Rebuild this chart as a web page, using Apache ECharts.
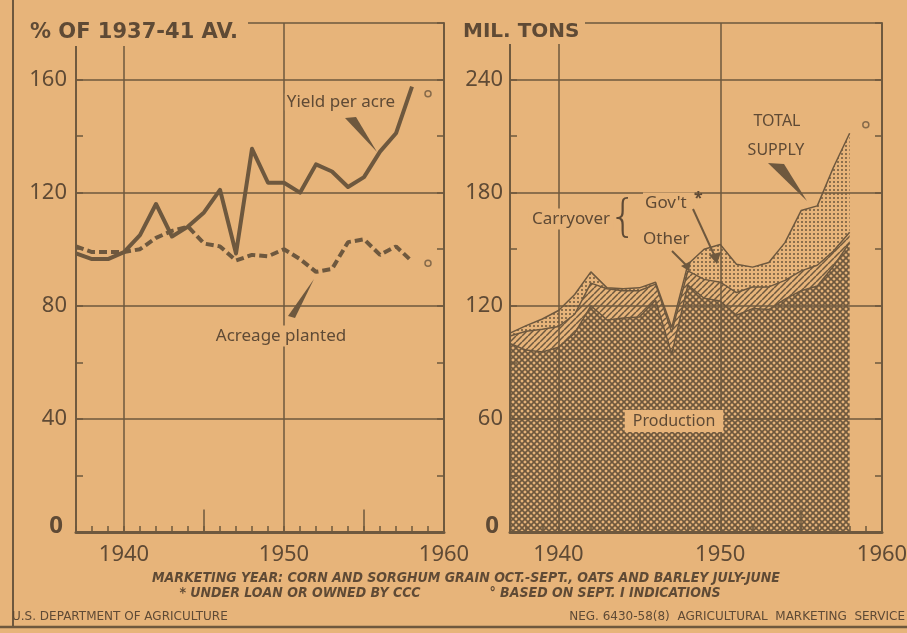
<!DOCTYPE html>
<html>
<head>
<meta charset="utf-8">
<script src="https://cdn.jsdelivr.net/npm/echarts@6/dist/echarts.min.js"></script>
<style>
html,body{margin:0;padding:0;background:#e7b47a;}
#chart{width:907px;height:633px;}
</style>
</head>
<body>
<div id="chart"></div>
<script>
// marketing years
const years = [1937,1938,1939,1940,1941,1942,1943,1944,1945,1946,1947,1948,1949,1950,1951,1952,1953,1954,1955,1956,1957,1958]
// left panel, % of 1937-41 average
const yieldPerAcre   = [98.5,96.5,96.5,99,105,116,104.5,108,113,121,98.5,135.5,123.5,123.5,120,130,127.5,122,125.5,134.5,141,157.5]
const acreagePlanted = [101,99,99,99,100,104,106.5,108,102,101,96,98,97.5,100,96.5,92,93,102.5,103.5,98,101,95.7]
// right panel, mil. tons
const production = [100,96.5,95.5,98,105.5,120,112.5,113.5,114,123,94.5,131,124,122.5,115,118.5,118,123.5,128,130.5,141,153.5]
const carryOther = [4,10,12,11,10,12,16.5,14.5,14,8.5,11.5,7.5,10,10,12,11.5,12,10,10.5,11,8,5.5]
const carryGov   = [1.5,3,5.5,8.5,10.5,6,0.5,1,1.5,1,2.5,3.5,16,20,15,10.5,13,20,32,31.5,44.5,52.5]
// sept. 1 indications
const estYear = 1959
const yieldEst = 155
const acreageEst = 95
const supplyEst = 216

const leftLabels = [0,40,80,120,160]
const rightLabels = [0,60,120,180,240]
const xLabels = [1940,1950,1960]
const axisYears = years.concat([1959, 1960]).map(String)

const PAPER = '#e7b47a'
const INK = '#6e583e'
const TEXT = '#5f4a35'
const NONE = 'rgba(0,0,0,0)'

function pattern(size, draw){
    const c = document.createElement('canvas')
    c.width = size; c.height = size
    const g = c.getContext('2d')
    draw(g, size)
    return c
}
// crosshatch for production
const crossImg = pattern(6, (g, s) => {
    g.strokeStyle = INK; g.lineWidth = 1.7
    g.beginPath()
    for (const o of [-s, 0, s]) {
        g.moveTo(o, 0); g.lineTo(o + s, s)
        g.moveTo(o + s, 0); g.lineTo(o, s)
    }
    g.stroke()
})
// diagonal stripes for other carryover
const stripeImg = pattern(6, (g, s) => {
    g.strokeStyle = INK; g.lineWidth = 1.5
    g.beginPath()
    for (const o of [-s, 0, s]) {
        g.moveTo(o, s); g.lineTo(o + s, 0)
    }
    g.stroke()
})
// fine dots for gov't carryover
const dotImg = pattern(4, (g, s) => {
    g.fillStyle = INK
    g.beginPath(); g.arc(2, 2, 1, 0, Math.PI * 2); g.fill()
})

const pairs = arr => arr.map((v, i) => [years[i], v])

// every 10th vertical grid line starting at 1940 (index 3 from 1937)
const xSplitColors = Array.from({length: 10}, (_, i) => i === 3 ? INK : NONE)

const xLabelStyle = {
    formatter: v => xLabels.includes(Number(v)) ? String(v) : '',
    color: TEXT, fontSize: 22, fontFamily: 'Noto Sans', margin: 12
}
const xTick = {inside: true, length: 6, lineStyle: {color: INK, width: 1.5}}

function yAxisFor(gridIndex, max, step, labels, margin){
    return {
        type: 'value', gridIndex, min: 0, max, interval: step,
        axisLine: {show: true, lineStyle: {color: INK, width: 1.8}},
        axisTick: {show: true, inside: true, length: 7, lineStyle: {color: INK, width: 1.5}},
        axisLabel: {
            formatter: v => v === 0 ? '{b|0}' : (labels.includes(v) ? String(v) : ''),
            color: TEXT, fontSize: 22, fontFamily: 'Noto Sans', margin,
            rich: {b: {fontSize: 24, fontWeight: 'bold', color: TEXT, fontFamily: 'Noto Sans', padding: [0, 4, 12, 0]}}
        },
        splitLine: {show: true, lineStyle: {color: [INK, NONE], width: 1.5}}
    }
}
function rightTicks(gridIndex, max, step){
    return {
        type: 'value', gridIndex, min: 0, max, interval: step, position: 'right',
        axisLine: {show: true, lineStyle: {color: INK, width: 1.5}},
        axisTick: {show: true, inside: true, length: 7, lineStyle: {color: INK, width: 1.5}},
        axisLabel: {show: false}, splitLine: {show: false}
    }
}
function longTicks(a, b, h){
    return {
        silent: true, symbol: 'none', label: {show: false},
        lineStyle: {color: INK, width: 1.5, type: 'solid'},
        data: [[{coord: [a, 0]}, {coord: [a, h]}], [{coord: [b, 0]}, {coord: [b, h]}]]
    }
}
const estDot = {symbol: 'circle', symbolSize: 6, itemStyle: {color: PAPER, borderColor: INK, borderWidth: 1.5}}

const chart = echarts.init(document.getElementById('chart'))
const option = {
    backgroundColor: PAPER,
    animation: false,
    textStyle: {fontFamily: 'Noto Sans'},
    grid: [
        {left: 76, right: 463, top: 23, bottom: 101, show: true, borderColor: INK, borderWidth: 1.5, outerBoundsMode: 'none'},
        {left: 510, right: 25, top: 23, bottom: 101, show: true, borderColor: INK, borderWidth: 1.5, outerBoundsMode: 'none'}
    ],
    xAxis: [
        {
            type: 'value', gridIndex: 0, min: 1937, max: 1960, interval: 1,
            axisLine: {lineStyle: {color: INK, width: 3}},
            axisTick: xTick, axisLabel: xLabelStyle,
            splitLine: {show: true, lineStyle: {color: xSplitColors, width: 1.5}}
        },
        {
            type: 'category', gridIndex: 1, data: axisYears, boundaryGap: false,
            axisLine: {lineStyle: {color: INK, width: 3}},
            axisTick: Object.assign({interval: 0}, xTick),
            axisLabel: Object.assign({interval: 0}, xLabelStyle),
            splitLine: {show: true, interval: (i, v) => Number(v) % 10 === 0, lineStyle: {color: INK, width: 1.5}}
        }
    ],
    yAxis: [
        yAxisFor(0, 180, 20, leftLabels, 9),
        yAxisFor(1, 270, 30, rightLabels, 7),
        rightTicks(0, 180, 20),
        rightTicks(1, 270, 30)
    ],
    series: [
        {
            name: 'Yield per acre', type: 'line', xAxisIndex: 0, yAxisIndex: 0,
            data: pairs(yieldPerAcre), showSymbol: false, z: 4,
            lineStyle: {color: INK, width: 4, join: 'round'},
            markLine: longTicks(1945, 1955, 8)
        },
        {
            name: 'Acreage planted', type: 'line', xAxisIndex: 0, yAxisIndex: 0,
            data: pairs(acreagePlanted), showSymbol: false, z: 4,
            lineStyle: {color: INK, width: 4, type: [8, 4]}
        },
        {
            type: 'scatter', xAxisIndex: 0, yAxisIndex: 0, z: 5,
            data: [[estYear, yieldEst], [estYear, acreageEst]], ...estDot
        },
        {
            name: 'Production', type: 'line', xAxisIndex: 1, yAxisIndex: 1, stack: 'supply',
            data: production, showSymbol: false,
            lineStyle: {color: INK, width: 1.5},
            areaStyle: {color: {image: crossImg, repeat: 'repeat'}, opacity: 1},
            markLine: longTicks('1945', '1955', 12)
        },
        {
            name: 'Other', type: 'line', xAxisIndex: 1, yAxisIndex: 1, stack: 'supply',
            data: carryOther, showSymbol: false,
            lineStyle: {color: INK, width: 1.5},
            areaStyle: {color: {image: stripeImg, repeat: 'repeat'}, opacity: 1}
        },
        {
            name: "Gov't", type: 'line', xAxisIndex: 1, yAxisIndex: 1, stack: 'supply',
            data: carryGov, showSymbol: false,
            lineStyle: {color: INK, width: 1.5},
            areaStyle: {color: {image: dotImg, repeat: 'repeat'}, opacity: 1}
        },
        {
            type: 'scatter', xAxisIndex: 1, yAxisIndex: 1, z: 5,
            data: [[String(estYear), supplyEst]], ...estDot
        }
    ],
    graphic: [
        // frame
        {type: 'line', shape: {x1: 13, y1: 0, x2: 13, y2: 627}, style: {stroke: INK, lineWidth: 2}, z: 1},
        {type: 'line', shape: {x1: 0, y1: 627, x2: 907, y2: 627}, style: {stroke: INK, lineWidth: 2.5}, z: 1},
        // unit headings, with paper behind so the frame stops short of them
        {type: 'rect', shape: {x: 20, y: 12, width: 228, height: 34}, style: {fill: PAPER}, z: 10},
        {type: 'rect', shape: {x: 458, y: 12, width: 127, height: 32}, style: {fill: PAPER}, z: 10},
        {type: 'text', x: 30, y: 22, z: 20, style: {text: '% OF 1937-41 AV.', font: 'bold 21px "DejaVu Sans"', fill: TEXT}},
        {type: 'text', x: 463, y: 22, z: 20, style: {text: 'MIL. TONS', font: 'bold 20px "DejaVu Sans"', fill: TEXT}},
        // left notes
        {type: 'text', x: 341, y: 102, z: 20, style: {text: 'Yield per acre', font: '17px "Noto Sans"', fill: TEXT, align: 'center', verticalAlign: 'middle', backgroundColor: PAPER, padding: [0, 2]}},
        {type: 'polygon', z: 20, shape: {points: [[345, 118], [356, 117], [377, 152]]}, style: {fill: INK}},
        {type: 'text', x: 281, y: 336, z: 20, style: {text: 'Acreage planted', font: '17px "Noto Sans"', fill: TEXT, align: 'center', verticalAlign: 'middle', backgroundColor: PAPER, padding: [2, 3]}},
        {type: 'polygon', z: 20, shape: {points: [[314, 279], [295, 318], [288, 316]]}, style: {fill: INK}},
        // right notes
        {type: 'text', x: 777, y: 121, z: 20, style: {text: 'TOTAL', font: '16px "Noto Sans"', fill: TEXT, align: 'center', verticalAlign: 'middle'}},
        {type: 'text', x: 776, y: 150, z: 20, style: {text: 'SUPPLY', font: '16px "Noto Sans"', fill: TEXT, align: 'center', verticalAlign: 'middle'}},
        {type: 'polygon', z: 20, shape: {points: [[768, 163], [784, 164], [807, 201]]}, style: {fill: INK}},
        {type: 'text', x: 571, y: 219, z: 20, style: {text: 'Carryover', font: '17px "Noto Sans"', fill: TEXT, align: 'center', verticalAlign: 'middle', backgroundColor: PAPER, padding: [2, 3]}},
        {type: 'text', x: 623, y: 220, z: 20, style: {text: '{', font: '200 44px "DejaVu Sans"', fill: TEXT, align: 'center', verticalAlign: 'middle'}},
        {type: 'text', x: 643, y: 203, z: 20, style: {text: "Gov't", font: '17px "Noto Sans"', fill: TEXT, verticalAlign: 'middle', backgroundColor: PAPER, padding: [2, 8, 2, 2]}},
        {type: 'text', x: 694, y: 198, z: 21, style: {text: '*', font: 'bold 16px "Noto Sans"', fill: TEXT, verticalAlign: 'middle'}},
        {type: 'text', x: 643, y: 239, z: 20, style: {text: 'Other', font: '17px "Noto Sans"', fill: TEXT, verticalAlign: 'middle'}},
        {type: 'line', z: 20, shape: {x1: 693, y1: 209, x2: 716, y2: 259}, style: {stroke: INK, lineWidth: 2}},
        {type: 'polygon', z: 20, shape: {points: [[709, 255], [721, 252], [717, 264]]}, style: {fill: INK}},
        {type: 'line', z: 20, shape: {x1: 672, y1: 251, x2: 688, y2: 267}, style: {stroke: INK, lineWidth: 2}},
        {type: 'polygon', z: 20, shape: {points: [[681, 266], [691, 261], [689, 271]]}, style: {fill: INK}},
        {type: 'text', x: 674, y: 421, z: 20, style: {text: 'Production', font: '16px "Noto Sans"', fill: TEXT, align: 'center', verticalAlign: 'middle', backgroundColor: PAPER, padding: [3, 8]}},
        // footnotes
        {type: 'text', x: 466, y: 578, z: 20, style: {text: 'MARKETING YEAR: CORN AND SORGHUM GRAIN OCT.-SEPT., OATS AND BARLEY JULY-JUNE', font: 'italic bold 14px "Liberation Sans Narrow", "DejaVu Sans Condensed"', fill: TEXT, align: 'center', verticalAlign: 'middle'}},
        {type: 'text', x: 300, y: 593, z: 20, style: {text: '* UNDER LOAN OR OWNED BY CCC', font: 'italic bold 14px "Liberation Sans Narrow", "DejaVu Sans Condensed"', fill: TEXT, align: 'center', verticalAlign: 'middle'}},
        {type: 'text', x: 605, y: 593, z: 20, style: {text: '\u00b0 BASED ON SEPT. I INDICATIONS', font: 'italic bold 14px "Liberation Sans Narrow", "DejaVu Sans Condensed"', fill: TEXT, align: 'center', verticalAlign: 'middle'}},
        {type: 'text', x: 12, y: 617, z: 20, style: {text: 'U.S. DEPARTMENT OF AGRICULTURE', font: '12px "DejaVu Sans"', fill: TEXT, verticalAlign: 'middle'}},
        {type: 'text', x: 905, y: 617, z: 20, style: {text: 'NEG. 6430-58(8)  AGRICULTURAL  MARKETING  SERVICE', font: '12px "DejaVu Sans"', fill: TEXT, align: 'right', verticalAlign: 'middle'}}
    ]
}
chart.setOption(option)
</script>
</body>
</html>
